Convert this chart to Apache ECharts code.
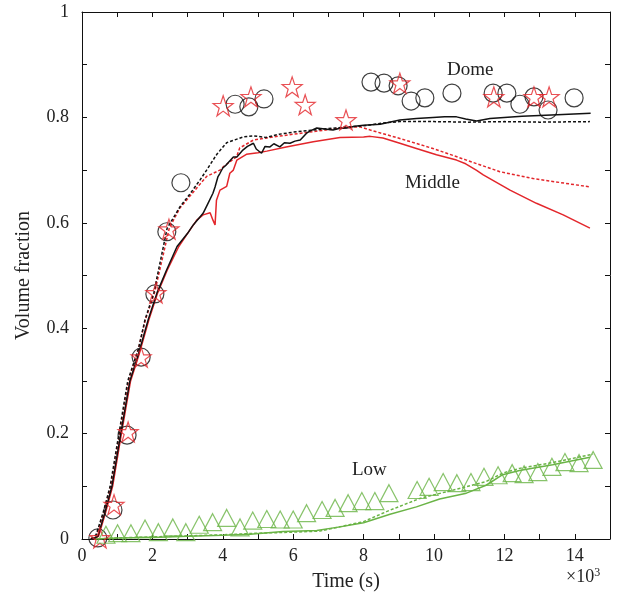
<!DOCTYPE html>
<html>
<head>
<meta charset="utf-8">
<script src="https://cdn.jsdelivr.net/npm/echarts@6/dist/echarts.min.js"></script>
<style>
html, body { margin: 0; padding: 0; background: #fff; }
#main { width: 618px; height: 601px; }
</style>
</head>
<body>
<div id="main"></div>
<script>
// time in 10^3 s, volume fraction
var domeExp = [[0.45, 0.002], [0.88, 0.055], [1.28, 0.197], [1.68, 0.345], [2.07, 0.465], [2.41, 0.583], [2.81, 0.676],
	[4.35, 0.825], [4.74, 0.82], [5.17, 0.835], [8.21, 0.867], [8.58, 0.865], [8.98, 0.86], [9.35, 0.831], [9.74, 0.837],
	[10.51, 0.846], [11.68, 0.846], [12.07, 0.846], [12.44, 0.825], [12.84, 0.839], [13.24, 0.814], [13.98, 0.837]];
var middleExp = [[0.51, 0.002], [0.91, 0.065], [1.31, 0.203], [1.68, 0.345], [2.1, 0.467], [2.47, 0.588], [4.01, 0.822],
	[4.8, 0.839], [5.97, 0.858], [6.34, 0.824], [7.5, 0.795], [9.03, 0.865], [11.7, 0.839], [12.84, 0.839], [13.27, 0.839]];
var lowExp = [[0.68, 0.008], [1.01, 0.011], [1.39, 0.011], [1.79, 0.02], [2.17, 0.013], [2.58, 0.022], [2.95, 0.013],
	[3.33, 0.027], [3.71, 0.032], [4.11, 0.04], [4.49, 0.022], [4.85, 0.035], [5.25, 0.038], [5.63, 0.037], [6.0, 0.037],
	[6.38, 0.049], [6.82, 0.055], [7.19, 0.059], [7.56, 0.068], [7.95, 0.072], [8.32, 0.072], [8.72, 0.087], [9.52, 0.093],
	[9.86, 0.099], [10.26, 0.108], [10.65, 0.106], [11.05, 0.108], [11.42, 0.118], [11.82, 0.121], [12.22, 0.125],
	[12.56, 0.123], [12.95, 0.127], [13.35, 0.137], [13.72, 0.146], [14.12, 0.144], [14.52, 0.15]];

var domeSolid = [[0.3, 0], [0.45, 0.005], [0.65, 0.05], [0.85, 0.1], [1.1, 0.2], [1.36, 0.3], [1.6, 0.35], [1.88, 0.416],
	[2.13, 0.467], [2.4, 0.51], [2.7, 0.555], [3.0, 0.58], [3.16, 0.596], [3.44, 0.618], [3.58, 0.637], [3.72, 0.656],
	[3.78, 0.668], [3.86, 0.687], [3.92, 0.694], [4.0, 0.704], [4.1, 0.71], [4.3, 0.725], [4.4, 0.725], [4.57, 0.738],
	[4.7, 0.745], [4.87, 0.751], [4.95, 0.74], [5.1, 0.732], [5.2, 0.745], [5.34, 0.744], [5.45, 0.75], [5.62, 0.744],
	[5.75, 0.752], [5.91, 0.751], [6.05, 0.755], [6.2, 0.757], [6.38, 0.77], [6.5, 0.775], [6.67, 0.78], [6.9, 0.778],
	[7.13, 0.776], [7.3, 0.779], [7.52, 0.78], [7.75, 0.783], [8.0, 0.785], [8.47, 0.787], [9.03, 0.795], [9.5, 0.798],
	[9.97, 0.8], [10.3, 0.801], [10.64, 0.801], [10.9, 0.797], [11.21, 0.793], [11.59, 0.798], [12.5, 0.802],
	[13.5, 0.805], [14.45, 0.808]];
var domeDash = [[0.25, 0], [0.4, 0.008], [0.6, 0.05], [0.8, 0.1], [1.05, 0.2], [1.3, 0.3], [1.6, 0.36], [1.79, 0.416],
	[2.04, 0.467], [2.42, 0.59], [2.78, 0.63], [3.07, 0.655], [3.35, 0.681], [3.54, 0.70], [3.83, 0.73], [4.11, 0.752],
	[4.58, 0.763], [4.87, 0.765], [5.23, 0.762], [5.6, 0.768], [6.0, 0.772], [6.57, 0.776], [7.2, 0.78], [7.6, 0.782],
	[8.0, 0.784], [8.5, 0.789], [9.03, 0.792], [10, 0.792], [11, 0.791], [12, 0.792], [13, 0.791], [14.43, 0.792]];
var middleSolid = [[0.3, 0], [0.47, 0.005], [0.67, 0.05], [0.87, 0.1], [1.12, 0.2], [1.38, 0.3], [1.62, 0.35],
	[1.9, 0.416], [2.15, 0.467], [2.42, 0.51], [2.75, 0.555], [3.0, 0.58], [3.26, 0.605], [3.44, 0.615], [3.64, 0.619],
	[3.72, 0.605], [3.78, 0.596], [3.82, 0.643], [3.92, 0.662], [4.11, 0.669], [4.2, 0.694], [4.3, 0.70], [4.4, 0.719],
	[4.67, 0.73], [5.0, 0.733], [5.25, 0.736], [5.8, 0.744], [6.57, 0.754], [7.33, 0.762], [8.0, 0.763], [8.19, 0.764],
	[8.55, 0.761], [9.03, 0.751], [9.5, 0.741], [10.07, 0.729], [10.64, 0.719], [10.9, 0.712], [11.2, 0.70],
	[11.4, 0.691], [12.16, 0.662], [12.91, 0.637], [13.67, 0.615], [14.43, 0.59]];
var middleDash = [[0.25, 0], [0.42, 0.008], [0.62, 0.05], [0.82, 0.1], [1.07, 0.2], [1.32, 0.3], [1.6, 0.36],
	[1.8, 0.416], [2.06, 0.467], [2.48, 0.59], [2.78, 0.628], [3.26, 0.666], [3.54, 0.688], [3.92, 0.70], [4.01, 0.706],
	[4.39, 0.725], [4.48, 0.742], [4.87, 0.757], [5.43, 0.763], [6.57, 0.773], [7.52, 0.781], [7.9, 0.782],
	[8.19, 0.776], [9.03, 0.76], [9.97, 0.741], [10.92, 0.719], [11.87, 0.697], [12.82, 0.684], [14.43, 0.668]];
var lowSolid = [[0.35, 0], [1, 0.002], [2, 0.003], [3, 0.005], [4, 0.007], [4.78, 0.009], [5.71, 0.014], [6.67, 0.016],
	[7.33, 0.023], [8.0, 0.031], [8.75, 0.047], [9.5, 0.061], [10.16, 0.076], [10.92, 0.087], [11.48, 0.102],
	[11.95, 0.122], [12.43, 0.13], [13.37, 0.141], [14.43, 0.155]];
var lowDash = [[0.35, 0], [1, 0.002], [2, 0.004], [3, 0.006], [4, 0.008], [5, 0.011], [6, 0.013], [6.76, 0.015],
	[8.0, 0.033], [8.65, 0.052], [9.6, 0.077], [10.55, 0.093], [11.48, 0.109], [11.95, 0.125], [12.43, 0.134],
	[13.37, 0.145], [14.52, 0.161]];

var BLACK = '#111';
var RED = '#e3262b';
var GREEN = '#6ab446';
var FONT = 'Liberation Serif';
var STAR = 'path://M50,0 L61.8,35.3 L97.6,35.3 L68.9,57 L79.4,92 L50,70.5 L20.6,92 L31.1,57 L2.4,35.3 L38.2,35.3 Z';

var lineSeries = function(data, color, dashed) {
	return {
		type: 'line',
		data: data,
		showSymbol: false,
		symbol: 'none',
		lineStyle: { color: color, width: 1.5, type: dashed ? [3, 2] : 'solid' },
		z: 2
	};
};
var dotSeries = function(data, symbol, size, color) {
	return {
		type: 'scatter',
		data: data,
		symbol: symbol,
		symbolSize: size,
		itemStyle: { color: 'rgba(0,0,0,0)', borderColor: color, borderWidth: 1.2 },
		z: 3
	};
};

// tick every 1 (or 0.1), label only every 2 (or 0.2)
var boxAxis = function(type, pos, showLabel) {
	var isX = type === 'x';
	return {
		type: 'value',
		position: pos,
		min: 0,
		max: isX ? 15 : 1,
		interval: isX ? 1 : 0.1,
		splitLine: { show: false },
		axisLine: { show: true, onZero: false, lineStyle: { color: BLACK, width: 1 } },
		axisTick: { show: true, inside: true, length: 5, lineStyle: { color: BLACK } },
		axisLabel: {
			show: showLabel,
			color: '#222',
			fontFamily: FONT,
			fontSize: 18,
			margin: isX ? 8 : 13,
			formatter: function(v) {
				var k = Math.round(v * (isX ? 1 : 10));
				if (k % 2 !== 0 || (isX && k > 14)) return '';
				return isX ? String(k) : String(+(k / 10).toFixed(1));
			}
		}
	};
};

var xMain = boxAxis('x', 'bottom', true);
xMain.name = 'Time (s)';
xMain.nameLocation = 'middle';
xMain.nameGap = 33;
xMain.nameTextStyle = { fontFamily: FONT, fontSize: 20, color: '#222' };
var yMain = boxAxis('y', 'left', true);
yMain.name = 'Volume fraction';
yMain.nameLocation = 'middle';
yMain.nameGap = 48;
yMain.nameTextStyle = { fontFamily: FONT, fontSize: 20, color: '#222' };

var chart = echarts.init(document.getElementById('main'));
chart.setOption({
	animation: false,
	backgroundColor: '#fff',
	grid: { left: 82, right: 8, top: 12, bottom: 62 },
	xAxis: [xMain, boxAxis('x', 'top', false)],
	yAxis: [yMain, boxAxis('y', 'right', false)],
	graphic: [
		{ type: 'text', left: 447, top: 61, style: { text: 'Dome', font: '19px "Liberation Serif"', fill: '#222' } },
		{ type: 'text', left: 405, top: 174, style: { text: 'Middle', font: '19px "Liberation Serif"', fill: '#222' } },
		{ type: 'text', left: 352, top: 461, style: { text: 'Low', font: '19px "Liberation Serif"', fill: '#222' } },
		{
			type: 'text', left: 566, top: 567,
			style: {
				text: '×10{s|3}',
				font: '18px "Liberation Serif"',
				fill: '#222',
				rich: { s: { fontSize: 12, fontFamily: FONT, verticalAlign: 'top', padding: [0, 0, 8, 0] } }
			}
		}
	],
	series: [
		lineSeries(lowDash, GREEN, true),
		lineSeries(lowSolid, GREEN, false),
		lineSeries(middleDash, RED, true),
		lineSeries(middleSolid, RED, false),
		lineSeries(domeDash, BLACK, true),
		lineSeries(domeSolid, BLACK, false),
		dotSeries(domeExp, 'circle', 18, BLACK),
		dotSeries(middleExp, STAR, 20, RED),
		dotSeries(lowExp, 'triangle', [18, 17], GREEN)
	]
});
</script>
</body>
</html>
